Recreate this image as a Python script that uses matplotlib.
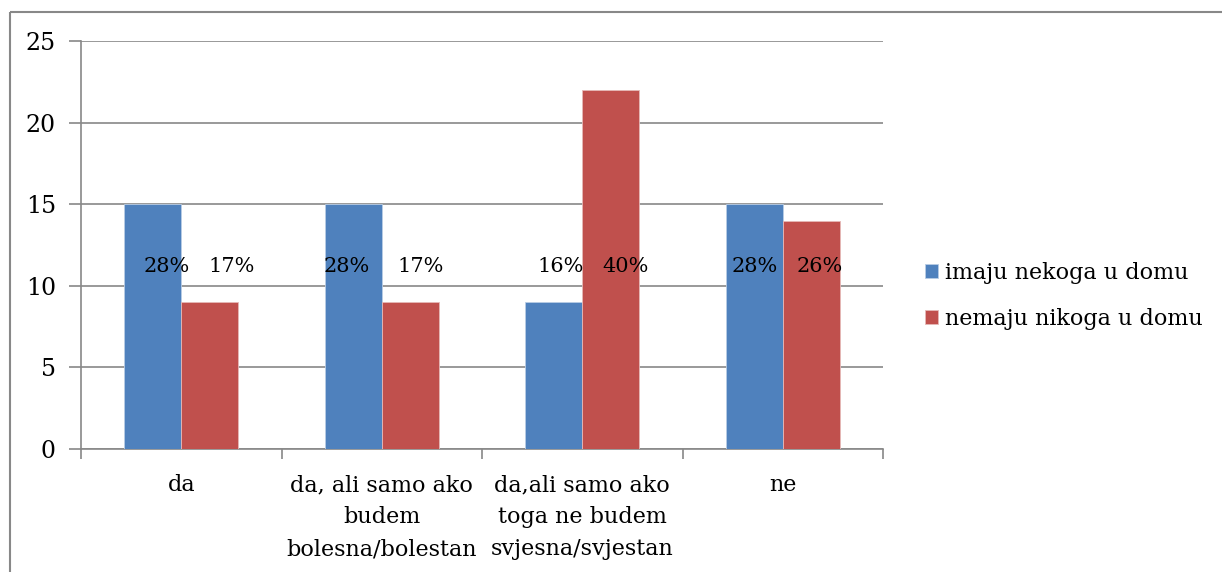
import matplotlib
matplotlib.use("Agg")
import matplotlib.pyplot as plt
import numpy as np

# data
categories = ["da", "da, ali samo ako\nbudem\nbolesna/bolestan",
              "da,ali samo ako\ntoga ne budem\nsvjesna/svjestan", "ne"]
series_names = ["imaju nekoga u domu", "nemaju nikoga u domu"]
imaju = [15, 15, 9, 15]
nemaju = [9, 9, 22, 14]
imaju_pct = ["28%", "28%", "16%", "28%"]
nemaju_pct = ["17%", "17%", "40%", "26%"]

blue = "#4f81bd"
red = "#c0504d"
grid_col = "#888888"

plt.rcParams['font.family'] = ['DejaVu Serif']

fig = plt.figure(figsize=(12.23, 5.72), dpi=100)
ax = fig.add_axes([81 / 1223, 1 - 449 / 572, (883 - 81) / 1223, (449 - 41) / 572])

x = np.arange(len(categories))
w = 0.284
ax.bar(x - w / 2, imaju, w, color=blue, edgecolor="#b9cde5", linewidth=0.6, label=series_names[0], zorder=3)
ax.bar(x + w / 2, nemaju, w, color=red, edgecolor="#e6b9b8", linewidth=0.6, label=series_names[1], zorder=3)

# percentage labels were placed by hand in the original, nudge them a bit
off_b = [0.07, -0.035, 0.035, 0.0]
off_r = [0.11, 0.05, 0.075, 0.04]
for i in range(len(categories)):
    ax.text(x[i] - w / 2 + off_b[i], 11.2, imaju_pct[i], ha="center", va="center", fontsize=15, zorder=4)
    ax.text(x[i] + w / 2 + off_r[i], 11.2, nemaju_pct[i], ha="center", va="center", fontsize=15, zorder=4)

ax.set_xlim(-0.5, 3.5)
ax.set_ylim(0, 25)
ax.set_yticks(range(0, 26, 5))
ax.yaxis.grid(True, color=grid_col, linewidth=1.2, zorder=0)
ax.set_axisbelow(True)

ax.set_xticks(np.arange(-0.5, 4, 1))
ax.set_xticklabels([])
ax.set_xticks(x, minor=True)
ax.set_xticklabels(categories, minor=True, fontsize=16, linespacing=1.6)
ax.tick_params(axis="x", which="minor", length=0, pad=18)
ax.tick_params(axis="x", which="major", length=7, color=grid_col, width=1.2, direction="out")
ax.tick_params(axis="y", length=9, color=grid_col, width=1.2, labelsize=17, pad=9)

for s in ["top", "right"]:
    ax.spines[s].set_visible(False)
for s in ["left", "bottom"]:
    ax.spines[s].set_color(grid_col)
    ax.spines[s].set_linewidth(1.2)

fig.legend(loc="center left", bbox_to_anchor=(905 / 1223, 1 - 296 / 572), frameon=False,
           fontsize=16, handlelength=0.6, handleheight=0.6, handletextpad=0.3, labelspacing=1.1)

# outer chart border (left and top edges visible in the crop)
fig.add_artist(plt.Line2D([10 / 1223, 10 / 1223], [0, 1 - 12 / 572], color=grid_col,
                          linewidth=1.5, solid_capstyle="butt"))
fig.add_artist(plt.Line2D([10 / 1223, 0.9995], [1 - 12 / 572, 1 - 12 / 572], color=grid_col,
                          linewidth=1.5, solid_capstyle="butt"))

fig.savefig("out.png", dpi=100)
